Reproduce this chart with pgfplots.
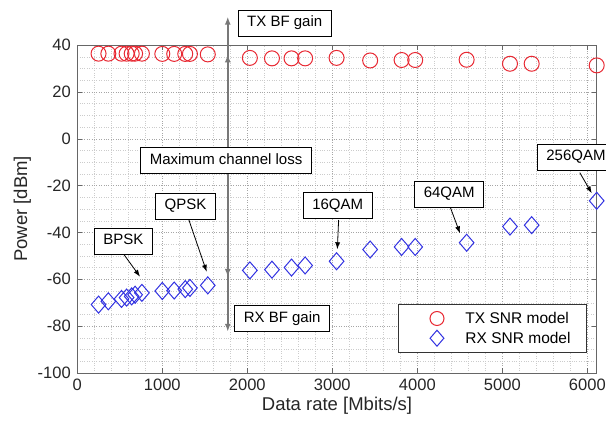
\documentclass[border=0pt]{standalone}
\usepackage{fontspec}
\setmainfont{Liberation Sans}
\usepackage{pgfplots}
\usepackage{pgfplotstable}
\pgfplotsset{compat=1.18}
\usetikzlibrary{arrows.meta}
\definecolor{mred}{RGB}{232,40,50}
\definecolor{mblue}{RGB}{50,50,225}
\definecolor{mgray}{RGB}{120,120,120}
\pgfplotsset{mylegimg/.style={legend image code/.code={\path (0pt,0pt) (50pt,0pt); \draw[##1, only marks] plot coordinates {(24pt,0pt)};}}}
\pgfplotstableread{
x tx rx
250 36.3 -70.8
365 36.3 -69.4
520 36.3 -68.4
580 36.3 -67.8
640 36.3 -67.3
680 36.3 -66.6
760 36.3 -65.8
1000 36.2 -65.0
1140 36.2 -64.8
1270 36.2 -64.2
1325 36.2 -63.7
1535 36.0 -62.6
2030 34.5 -56.2
2290 34.3 -55.9
2520 34.3 -55.0
2680 34.3 -54.1
3050 34.5 -52.3
3445 33.4 -47.3
3815 33.6 -46.2
3975 33.6 -46.2
4580 33.7 -44.4
5090 32.0 -37.5
5345 32.0 -36.9
6110 31.3 -26.5
}\datatable
\begin{document}
\begin{tikzpicture}[
  abox/.style={draw=black, line width=0.8pt, fill=white, inner xsep=9pt,
    minimum height=26pt, text height=11pt, text depth=3.5pt,
    font=\fontsize{15}{17}\selectfont},
  aarr/.style={black, line width=0.8pt, -{Latex[length=7pt,width=5pt]}},
  garr/.style={mgray, line width=2pt, -{Latex[length=8pt,width=6pt]}}
]
\begin{axis}[
  at={(0pt,0pt)}, anchor=south west,
  scale only axis, width=519.4pt, height=328pt,
  xmin=0, xmax=6110, ymin=-100, ymax=40,
  xtick={0,1000,...,6000}, ytick={-100,-80,...,40},
  minor x tick num=4, minor y tick num=3,
  grid=both,
  major grid style={dotted, black!35},
  minor grid style={dotted, black!20},
  tick align=inside, major tick length=5pt, minor tick length=0pt,
  tick style={black!60},
  axis line style={black!60, line width=0.8pt},
  tick label style={font=\fontsize{16.5}{18}\selectfont, text=black!85},
  xticklabel style={yshift=-2pt},
  yticklabel style={xshift=-3pt},
  /pgf/number format/assume math mode=true,
  /pgf/number format/set thousands separator={},
  xlabel={Data rate [Mbits/s]}, ylabel={Power [dBm]},
  label style={font=\fontsize{18.5}{20}\selectfont, text=black!85},
  clip=false,
  legend style={at={(0.9813,0.061)}, anchor=south east, draw=black!80,
    fill=white, font=\fontsize{15.5}{17}\selectfont, inner xsep=14pt,
    inner ysep=6pt, row sep=3pt, line width=0.8pt},
  legend cell align=left,
]
\addplot[only marks, mark=o, mark size=7.5pt, color=mred, line width=1pt, forget plot] table[x=x, y=tx] {\datatable};
\addplot[only marks, mark=diamond, mark size=8.5pt, mark options={xscale=1.15}, color=mblue, line width=1pt, forget plot] table[x=x, y=rx] {\datatable};
\addlegendimage{mylegimg, mark=o, mark size=7pt, color=mred, line width=1pt}
\addlegendentry{TX SNR model}
\addlegendimage{mylegimg, mark=diamond, mark size=8pt, mark options={xscale=1.15}, color=mblue, line width=1pt}
\addlegendentry{RX SNR model}

% vertical gain/loss line
\draw[mgray, line width=2pt] (axis cs:1770,-59) -- (axis cs:1770,36);
\draw[garr] (axis cs:1770,30) -- (axis cs:1770,36);
\draw[garr] (axis cs:1770,36) -- (axis cs:1770,52.1);
\draw[garr] (axis cs:1770,-54) -- (axis cs:1770,-59);
\draw[garr] (axis cs:1770,-59) -- (axis cs:1770,-82.4);

% annotation arrows
\draw[aarr] (axis cs:552,-49.6) -- (axis cs:738,-58.9);
\draw[aarr] (axis cs:1313,-34.7) -- (axis cs:1522,-56.8);
\draw[aarr] (axis cs:3074,-34.7) -- (axis cs:3059,-47.2);
\draw[aarr] (axis cs:4385,-29.0) -- (axis cs:4502,-40.4);
\draw[aarr] (axis cs:5911,-14.5) -- (axis cs:6052,-23.3);

% boxes
\node[abox] at (axis cs:2440,49.3) {TX BF gain};
\node[abox] at (axis cs:1750,-9.2) {Maximum channel loss};
\node[abox] at (axis cs:543,-43.7) {BPSK};
\node[abox] at (axis cs:1273,-28.8) {QPSK};
\node[abox] at (axis cs:3063,-28.4) {16QAM};
\node[abox] at (axis cs:4375,-23.7) {64QAM};
\node[abox] at (axis cs:5866,-7.8) {256QAM};
\node[abox] at (axis cs:2410,-76.7) {RX BF gain};
\end{axis}
\pgfresetboundingbox
\path[use as bounding box] (-77.3pt,-53pt) rectangle (528.7pt,373pt);
\end{tikzpicture}
\end{document}
